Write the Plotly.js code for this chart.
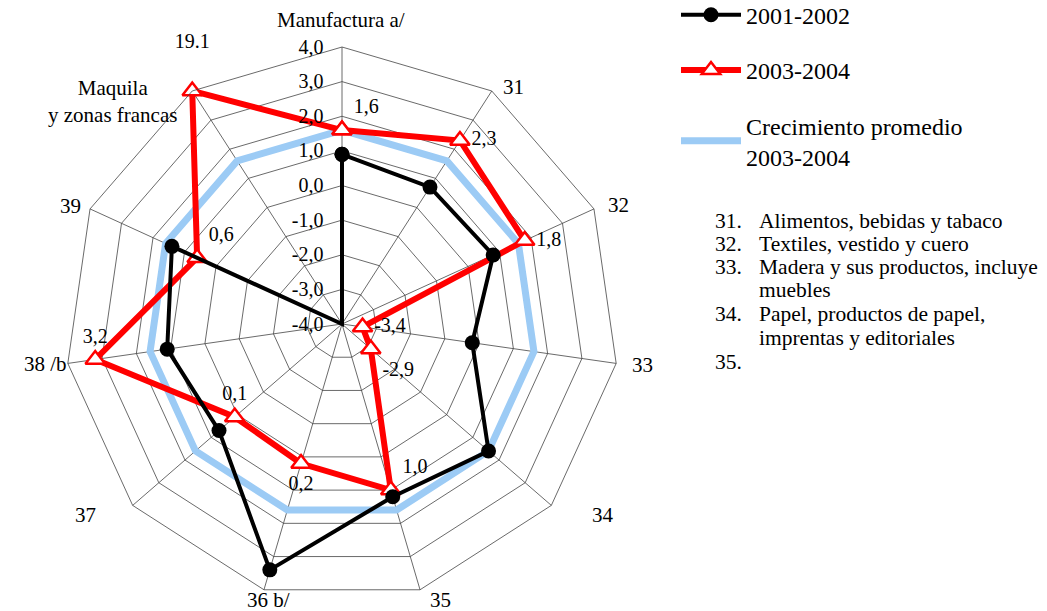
<!DOCTYPE html>
<html>
<head>
<meta charset="utf-8">
<script src="https://cdn.plot.ly/plotly-3.0.1.min.js"></script>
<style>html,body{margin:0;padding:0;background:#fff;}#chart{width:1047px;height:611px;}</style>
</head>
<body>
<div id="chart"></div>
<script>
// ---- data ----
const categories = ["Manufactura a/", "31", "32", "33", "34", "35", "36 b/", "37", "38 /b", "39", "Maquila<br>y zonas francas"];
const serie2001_2002 = [0.9, 0.7, 0.8, -0.2, 1.6, 1.2, 3.4, 0.7, 1.1, 1.4, -4.0];
const serie2003_2004 = [1.6, 2.3, 1.8, -3.4, -2.9, 1.0, 0.2, 0.1, 3.2, 0.6, 19.1];
const promedio2003_2004 = [1.6, 1.6, 1.6, 1.6, 1.6, 1.6, 1.6, 1.6, 1.6, 1.6, 1.6];
const radialTicks = [-4, -3, -2, -1, 0, 1, 2, 3, 4];
const seriesNames = ["2001-2002", "2003-2004", "Crecimiento promedio<br>2003-2004"];
const noteNumbers = ["31.", "32.", "33.", "", "34.", "", "35."];
const noteTexts = ["Alimentos, bebidas y tabaco", "Textiles, vestido y cuero", "Madera y sus productos, incluye", "muebles", "Papel, productos de papel,", "imprentas y editoriales", ""];

// ---- helpers ----
const rMin = radialTicks[0], rMax = radialTicks[radialTicks.length - 1];
// values are shifted so the radial axis starts at 0 (the centre = -4,0)
const toR = v => Math.max(rMin, Math.min(rMax, v)) - rMin;
const close = a => a.concat([a[0]]);
const thetaC = close(categories);
const comma = v => v.toFixed(1).replace(".", ",");
const NB = "\u00a0";
const fmtLabel = v => (v > rMax ? v.toFixed(1) + "<br>" + NB : comma(v));
const redTextPos = ["top right", "middle right", "middle right", "middle right", "bottom right", "top right",
                    "bottom center", "top center", "top center", "top right", "top center"];

const FONT = "Liberation Serif, Times New Roman, serif";
const redText = serie2003_2004.map(fmtLabel).concat([""]);

const traces = [
  {
    type: "scatterpolar", mode: "lines",
    r: close(promedio2003_2004.map(toR)), theta: thetaC,
    name: seriesNames[2], legendgroup: "c", legendrank: 3,
    line: {color: "#9ccbf5", width: 7},
    hoverinfo: "skip"
  },
  {
    type: "scatterpolar", mode: "lines+markers+text",
    r: close(serie2003_2004.map(toR)), theta: thetaC,
    text: redText,
    textposition: close(redTextPos),
    textfont: {family: FONT, size: 20, color: "#000"},
    name: seriesNames[1], legendgroup: "b", legendrank: 2,
    line: {color: "#ff0000", width: 6},
    marker: {symbol: "triangle-up", size: 17, color: "#ffffff", line: {color: "#ff0000", width: 2.5}},
    cliponaxis: false,
    hoverinfo: "skip"
  },
  {
    type: "scatterpolar", mode: "lines+markers",
    r: close(serie2001_2002.map(toR)), theta: thetaC,
    name: seriesNames[0], legendgroup: "a", legendrank: 1,
    line: {color: "#000000", width: 4},
    marker: {symbol: "circle", size: 15, color: "#000000"},
    cliponaxis: false,
    hoverinfo: "skip"
  }
];

const annotations = [];
// angular category labels (placed like the original)
const catLabelPos = [[341, 20], [513, 87], [618, 205], [642, 365], [603, 515], [440, 600],
                     [268, 600], [86, 515], [45, 364], [70, 206], [112, 102]];
categories.forEach((c, i) => {
  annotations.push({xref: "paper", yref: "paper", x: catLabelPos[i][0] / 1047, y: 1 - catLabelPos[i][1] / 611,
    xanchor: "center", yanchor: "middle", text: c, showarrow: false,
    font: {family: FONT, size: 21, color: "#000"}});
});
// notes
const rowY = [221, 244, 267, 290, 314, 338, 362];
rowY.forEach((y, i) => {
  if (noteNumbers[i]) annotations.push({xref: "paper", yref: "paper", x: 713/1047, y: 1 - y/611,
    xanchor: "left", yanchor: "middle", text: noteNumbers[i], showarrow: false,
    font: {family: FONT, size: 21.5, color: "#000"}});
  if (noteTexts[i]) annotations.push({xref: "paper", yref: "paper", x: 757/1047, y: 1 - y/611,
    xanchor: "left", yanchor: "middle", text: noteTexts[i], showarrow: false,
    font: {family: FONT, size: 21.5, color: "#000"}});
});

const layout = {
  width: 1047, height: 611,
  margin: {l: 0, r: 0, t: 0, b: 0, autoexpand: false},
  paper_bgcolor: "#fff",
  font: {family: FONT, color: "#000"},
  showlegend: true,
  legend: {
    x: 676/1047, y: 1.012, xanchor: "left", yanchor: "top",
    font: {family: FONT, size: 24, color: "#000"},
    traceorder: "grouped", tracegroupgap: 21,
    bgcolor: "rgba(0,0,0,0)", itemwidth: 60
  },
  polar: {
    domain: {x: [64/1047, 620/1047], y: [10/611, 564/611]},
    bgcolor: "#fff",
    gridshape: "linear",
    radialaxis: {
      range: [0, rMax - rMin],
      tickmode: "array",
      tickvals: radialTicks.map(t => t - rMin),
      ticktext: radialTicks.map(t => comma(t) + NB + NB + NB),
      angle: 90, side: "counterclockwise", tickangle: 90,
      showline: false, ticks: "",
      gridcolor: "#444", gridwidth: 0.8,
      tickfont: {family: FONT, size: 20, color: "#000"}
    },
    angularaxis: {
      type: "category",
      categoryorder: "array", categoryarray: categories,
      rotation: 90, direction: "clockwise",
      showline: true, linecolor: "#444", linewidth: 0.8,
      gridcolor: "#444", gridwidth: 0.8, ticks: "",
      showticklabels: false
    }
  },
  annotations: annotations
};

Plotly.newPlot("chart", traces, layout, {displayModeBar: false, staticPlot: true});
</script>
</body>
</html>
